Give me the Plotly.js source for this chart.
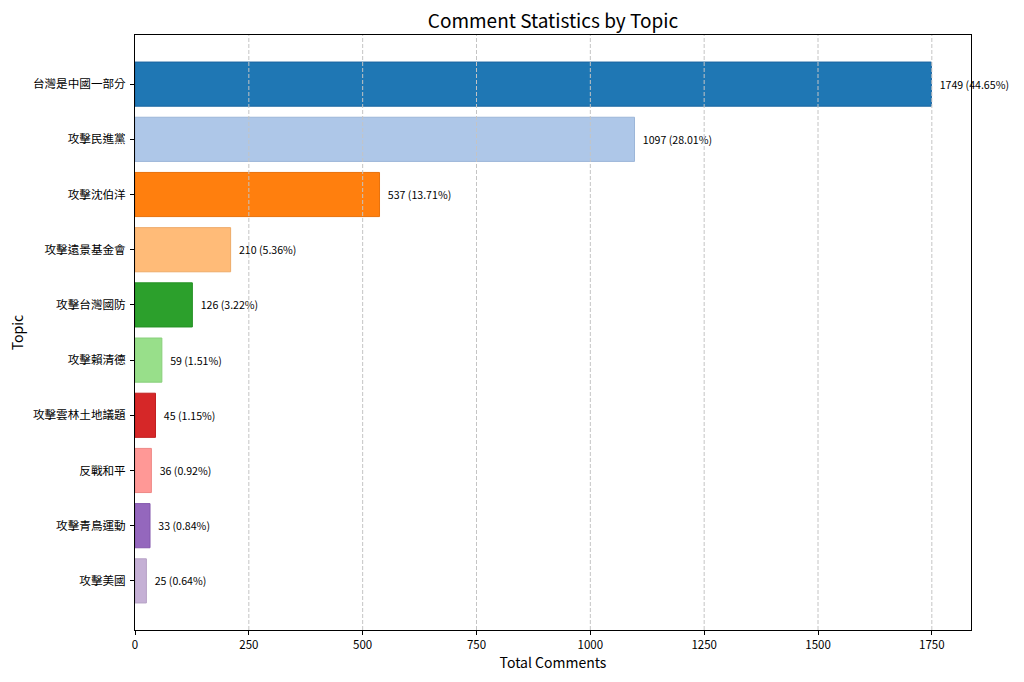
<!DOCTYPE html>
<html>
<head>
<meta charset="utf-8">
<script src="https://cdn.plot.ly/plotly-3.0.1.min.js"></script>
<style>body{margin:0;background:#fff}</style>
</head>
<body>
<div id="chart" style="width:1024px;height:682px"></div>
<script>
var topics = ['台灣是中國一部分', '攻擊民進黨', '攻擊沈伯洋', '攻擊遠景基金會', '攻擊台灣國防',
  '攻擊賴清德', '攻擊雲林土地議題', '反戰和平', '攻擊青鳥運動', '攻擊美國'];
var comments = [1749, 1097, 537, 210, 126, 59, 45, 36, 33, 25];
var colors = ['#1f77b4', '#aec7e8', '#ff7f0e', '#ffbb78', '#2ca02c',
  '#98df8a', '#d62728', '#ff9896', '#9467bd', '#c5b0d5'];
var edges = ['#1a64a0', '#9cb6d8', '#e8710b', '#eeaa68', '#259025',
  '#88cf7a', '#c02020', '#ee8886', '#8457ad', '#b5a0c5'];
var xTicks = [0, 250, 500, 750, 1000, 1250, 1500, 1750];

var total = comments.reduce(function (a, b) { return a + b; }, 0);
var labels = comments.map(function (v) {
  return '\u2002' + v + ' (' + (v / total * 100).toFixed(2) + '%)';
});

var font = '"Noto Sans CJK TC", "Noto Sans", sans-serif';

var trace = {
  type: 'bar',
  orientation: 'h',
  x: comments,
  y: topics,
  width: 0.8,
  marker: {color: colors, line: {color: edges, width: 1}},
  text: labels,
  textposition: 'outside',
  cliponaxis: false,
  textfont: {family: font, size: 10.6, color: '#000'},
  hoverinfo: 'x+y'
};

// dashed grid drawn over the bars, as in the original
var grid = xTicks.slice(1).map(function (t) {
  return {type: 'line', xref: 'x', yref: 'paper', x0: t, x1: t, y0: 0, y1: 1,
    layer: 'above', line: {color: '#c4c4c4', width: 1, dash: '4px,2px'}};
});

var layout = {
  width: 1024,
  height: 682,
  margin: {l: 135, r: 53, t: 35, b: 52},
  paper_bgcolor: '#fff',
  plot_bgcolor: '#fff',
  showlegend: false,
  font: {family: font, color: '#000'},
  title: {text: 'Comment Statistics by Topic', font: {family: font, size: 19},
    xref: 'paper', x: 0.5, xanchor: 'center', yref: 'container', y: 0.968, yanchor: 'middle'},
  shapes: grid,
  xaxis: {
    title: {text: 'Total Comments', font: {size: 14}, standoff: 6},
    range: [0, 1836],
    tickvals: xTicks,
    ticks: 'outside', ticklen: 4, tickcolor: '#000',
    tickfont: {size: 11.5},
    showgrid: false,
    zeroline: false,
    showline: true, linecolor: '#000', linewidth: 1, mirror: true
  },
  yaxis: {
    title: {text: 'Topic', font: {size: 14}, standoff: 6},
    autorange: false,
    range: [9.89, -0.89],
    type: 'category',
    ticks: 'outside', ticklen: 4, tickcolor: '#000',
    ticklabelstandoff: 2,
    tickfont: {size: 11.6},
    showgrid: false, zeroline: false,
    showline: true, linecolor: '#000', linewidth: 1, mirror: true
  },
  bargap: 0.2
};

Plotly.newPlot('chart', [trace], layout, {staticPlot: true});
</script>
</body>
</html>
